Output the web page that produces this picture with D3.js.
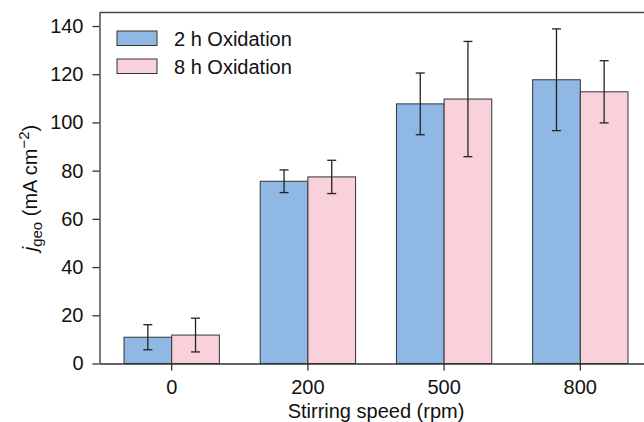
<!DOCTYPE html>
<html>
<head>
<meta charset="utf-8">
<script src="https://cdn.jsdelivr.net/npm/d3@7"></script>
<style>
html,body{margin:0;padding:0;background:#fff;}
svg{display:block;font-family:"Liberation Sans",Arial,Helvetica,sans-serif;}
</style>
</head>
<body>
<svg id="chart" width="644" height="422"></svg>
<script>
const categories = ["0", "200", "500", "800"];
const seriesNames = ["2 h Oxidation", "8 h Oxidation"];
const values2h = [10.9, 75.6, 107.7, 117.7];
const errors2h = [5.2, 4.7, 12.8, 21.1];
const values8h = [11.8, 77.4, 109.7, 112.7];
const errors8h = [7.0, 6.9, 23.9, 12.9];
const yTicks = [0, 20, 40, 60, 80, 100, 120, 140];
const colors = ["#8fb9e4", "#f9d1da"];

const series = [
  {name: seriesNames[0], values: values2h, errors: errors2h, color: colors[0]},
  {name: seriesNames[1], values: values8h, errors: errors8h, color: colors[1]}
];

const svg = d3.select("#chart");
const pL = 99.5, pR = 652.5, pT = 12.5, pB = 363.5;
const fs = 20;

const x = d3.scaleBand().domain(categories).range([pL, pR]).paddingInner(0.3).paddingOuter(0.18);
const xs = d3.scaleBand().domain(seriesNames).range([0, x.bandwidth()]);
const y = d3.scaleLinear().domain([0, 145.6]).range([pB, pT]);

// bars
const g = svg.append("g");
series.forEach(s => {
  g.selectAll(null).data(categories).enter().append("rect")
    .attr("x", (c) => x(c) + xs(s.name))
    .attr("y", (c, i) => y(s.values[i]))
    .attr("width", xs.bandwidth())
    .attr("height", (c, i) => y(0) - y(s.values[i]))
    .attr("fill", s.color)
    .attr("stroke", "#333")
    .attr("stroke-width", 1);
});
// error bars
const cap = 4.5;
series.forEach(s => {
  categories.forEach((c, i) => {
    const cx = x(c) + xs(s.name) + xs.bandwidth() / 2;
    const y1 = y(s.values[i] + s.errors[i]), y2 = y(s.values[i] - s.errors[i]);
    const eg = svg.append("g").attr("stroke", "#222").attr("stroke-width", 1.3);
    eg.append("line").attr("x1", cx).attr("x2", cx).attr("y1", y1).attr("y2", y2);
    eg.append("line").attr("x1", cx - cap).attr("x2", cx + cap).attr("y1", y1).attr("y2", y1);
    eg.append("line").attr("x1", cx - cap).attr("x2", cx + cap).attr("y1", y2).attr("y2", y2);
  });
});

// axes
const xAxis = d3.axisBottom(x).tickSizeInner(7).tickSizeOuter(0).tickPadding(9.5);
const yAxis = d3.axisLeft(y).tickValues(yTicks).tickSizeInner(7).tickSizeOuter(0).tickPadding(9);
const gx = svg.append("g").attr("transform", `translate(0,${pB})`).call(xAxis);
const gy = svg.append("g").attr("transform", `translate(${pL},0)`).call(yAxis);
[gx, gy].forEach(a => {
  a.selectAll("path").attr("stroke", "#333").attr("stroke-width", 1.3);
  a.selectAll("line").attr("stroke", "#333").attr("stroke-width", 1.3);
  a.selectAll("text").attr("fill", "#111").style("font-size", fs + "px").style("font-family", "Liberation Sans, Arial, sans-serif");
});
// top border
svg.append("line").attr("x1", pL).attr("x2", pR).attr("y1", pT).attr("y2", pT)
  .attr("stroke", "#444").attr("stroke-width", 1.3);

// x label
svg.append("text").attr("x", (pL + pR) / 2).attr("y", 418).attr("text-anchor", "middle")
  .attr("fill", "#111").style("font-size", fs + "px").text("Stirring speed (rpm)");

// y label
const yl = svg.append("text").attr("transform", `translate(37,${(pT + pB) / 2}) rotate(-90)`)
  .attr("text-anchor", "middle").attr("fill", "#111").style("font-size", fs + "px");
yl.append("tspan").style("font-style", "italic").text("j");
yl.append("tspan").attr("dy", 5).style("font-size", "15px").text("geo");
yl.append("tspan").attr("dy", -5).text(" (mA cm");
yl.append("tspan").attr("dy", -8).style("font-size", "15px").text("\u22122");
yl.append("tspan").attr("dy", 8).text(")");

// legend
const lg = svg.append("g");
series.forEach((s, i) => {
  const ly = 31 + i * 28;
  lg.append("rect").attr("x", 117).attr("y", ly).attr("width", 40).attr("height", 14.5)
    .attr("fill", s.color).attr("stroke", "#333").attr("stroke-width", 1);
  lg.append("text").attr("x", 174).attr("y", ly + 14.5).attr("fill", "#111")
    .style("font-size", fs + "px").text(s.name);
});
</script>
</body>
</html>
